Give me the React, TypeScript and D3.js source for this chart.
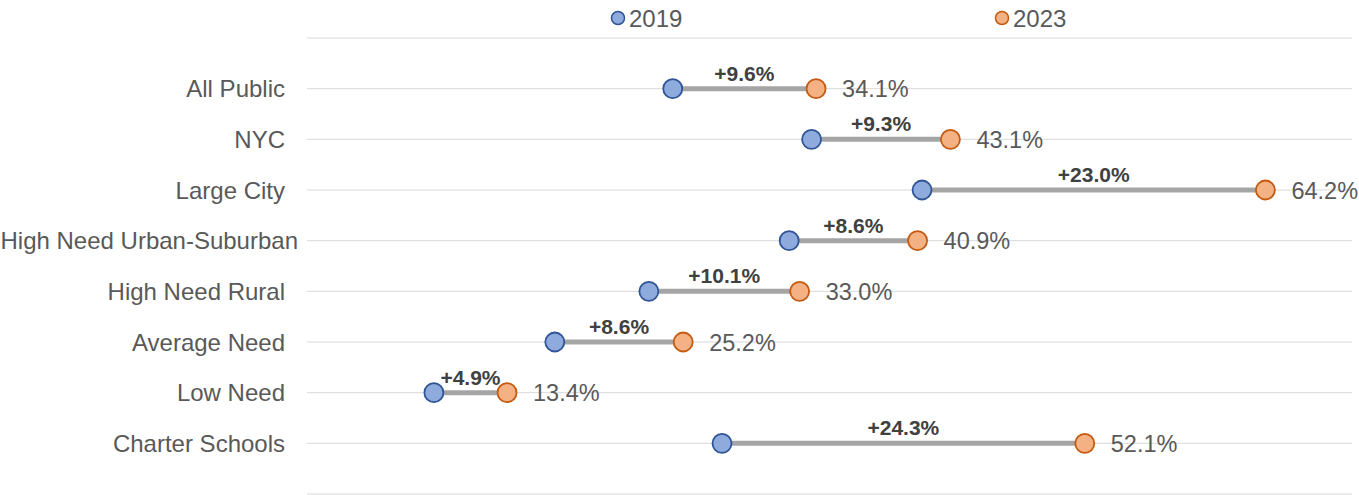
import React from 'react'
import { scaleLinear, range } from 'd3'

const categories = ['All Public', 'NYC', 'Large City', 'High Need Urban-Suburban', 'High Need Rural', 'Average Need', 'Low Need', 'Charter Schools']
const values2019 = [24.5, 33.8, 41.2, 32.3, 22.9, 16.6, 8.5, 27.8]
const values2023 = [34.1, 43.1, 64.2, 40.9, 33.0, 25.2, 13.4, 52.1]
const diffLabels = ['+9.6%', '+9.3%', '+23.0%', '+8.6%', '+10.1%', '+8.6%', '+4.9%', '+24.3%']
const seriesNames = ['2019', '2023']

const W = 1359
const H = 495
const font = "'Liberation Sans', Arial, sans-serif"

const c2019 = { fill: '#8faadc', stroke: '#2f5597' }
const c2023 = { fill: '#f4b183', stroke: '#c55a11' }

const App = () => {
  const x = scaleLinear().domain([0, 70]).range([307, 1352])
  const y = scaleLinear().domain([0, 9]).range([38, 494])
  const rowY = (i: number) => y(i + 1)

  return (
    <svg width={W} height={H} style={{ position: 'absolute', left: 0, top: 0, background: '#fff' }} fontFamily={font}>
      {range(0, 10).map(k => (
        <line key={k} x1={x(0)} x2={x.range()[1]} y1={y(k)} y2={y(k)} stroke="#d9d9d9" strokeWidth={1} />
      ))}

      {/* legend */}
      <circle cx={618} cy={18} r={6.5} fill={c2019.fill} stroke={c2019.stroke} strokeWidth={1.5} />
      <text x={629} y={26.5} fontSize={24} fill="#595959">{seriesNames[0]}</text>
      <circle cx={1002} cy={18} r={6.5} fill={c2023.fill} stroke={c2023.stroke} strokeWidth={1.5} />
      <text x={1013} y={26.5} fontSize={24} fill="#595959">{seriesNames[1]}</text>

      {categories.map((c, i) => {
        const yy = rowY(i)
        const a = x(values2019[i])
        const b = x(values2023[i])
        // the longest label spills past the usual right edge
        const lx = c.length > 20 ? 298 : 285
        return (
          <g key={c}>
            <text x={lx} y={yy + 8.5} fontSize={24} textAnchor="end" fill="#595959">{c}</text>
            <line x1={a} x2={b} y1={yy} y2={yy} stroke="#a5a5a5" strokeWidth={5} />
            <text x={(a + b) / 2} y={yy - 8} fontSize={21} fontWeight="bold" textAnchor="middle" fill="#404040">{diffLabels[i]}</text>
            <circle cx={a} cy={yy} r={9.5} fill={c2019.fill} stroke={c2019.stroke} strokeWidth={1.8} />
            <circle cx={b} cy={yy} r={9.5} fill={c2023.fill} stroke={c2023.stroke} strokeWidth={1.8} />
            <text x={b + 26} y={yy + 8.5} fontSize={23.5} fill="#595959">{values2023[i].toFixed(1)}%</text>
          </g>
        )
      })}
    </svg>
  )
}

export default App
